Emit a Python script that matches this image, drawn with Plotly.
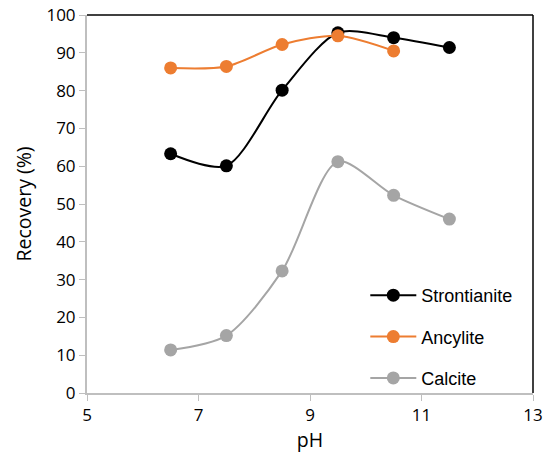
import plotly.graph_objects as go

# pH values for each mineral
ph_strontianite = [6.5, 7.5, 8.5, 9.5, 10.5, 11.5]
rec_strontianite = [63.3, 60.1, 80.1, 95.3, 94.0, 91.4]

ph_ancylite = [6.5, 7.5, 8.5, 9.5, 10.5]
rec_ancylite = [86.0, 86.4, 92.2, 94.5, 90.5]

ph_calcite = [6.5, 7.5, 8.5, 9.5, 10.5, 11.5]
rec_calcite = [11.4, 15.2, 32.3, 61.2, 52.3, 46.0]

x_ticks = [5, 7, 9, 11, 13]
y_ticks = list(range(0, 101, 10))

series = [
    ("Strontianite", ph_strontianite, rec_strontianite, "#000000"),
    ("Ancylite", ph_ancylite, rec_ancylite, "#ED7D31"),
    ("Calcite", ph_calcite, rec_calcite, "#A5A5A5"),
]

fig = go.Figure()
for name, xs, ys, color in series:
    fig.add_trace(go.Scatter(
        x=xs, y=ys, name=name, legendgroup=name,
        mode="lines+markers",
        line=dict(color=color, width=2, shape="spline", smoothing=0.8),
        marker=dict(color=color, size=13),
    ))

tick_font = dict(family="Open Sans, DejaVu Sans, sans-serif", size=17, color="#000000")
title_font = dict(family="Open Sans, DejaVu Sans, sans-serif", size=19.5, color="#000000")

fig.update_layout(
    width=546, height=461,
    margin=dict(l=87, r=13, t=15, b=68),
    paper_bgcolor="white", plot_bgcolor="white",
    showlegend=True,
    legend=dict(
        x=0.624, y=0.307, xanchor="left", yanchor="top",
        font=dict(family="Liberation Sans, Arial, sans-serif", size=18, color="#000000"),
        tracegroupgap=15, itemwidth=46, bgcolor="rgba(0,0,0,0)",
    ),
    xaxis=dict(
        range=[5, 13], tickvals=x_ticks, ticktext=[str(v) for v in x_ticks],
        showgrid=False, zeroline=False, automargin=False,
        showline=True, linecolor="#BFBFBF", linewidth=2,
        ticks="outside", ticklen=6, tickcolor="#BFBFBF", tickwidth=1,
        tickfont=tick_font,
        title=dict(text="pH", font=title_font, standoff=8),
    ),
    yaxis=dict(
        range=[0, 100], tickvals=y_ticks,
        showgrid=False, zeroline=False, automargin=False,
        showline=True, linecolor="#BFBFBF", linewidth=2,
        ticks="outside", ticklen=6, tickcolor="#BFBFBF", tickwidth=1,
        tickfont=tick_font,
        title=dict(text="Recovery (%)", font=title_font, standoff=10),
    ),
    shapes=[
        # dark frame on the top and right sides of the plot area
        dict(type="line", xref="paper", yref="paper", x0=0, x1=1, y0=1, y1=1,
             line=dict(color="#000000", width=1.5)),
        dict(type="line", xref="paper", yref="paper", x0=1, x1=1, y0=0, y1=1,
             line=dict(color="#000000", width=1.5)),
    ],
)

fig.write_html("out.html")
